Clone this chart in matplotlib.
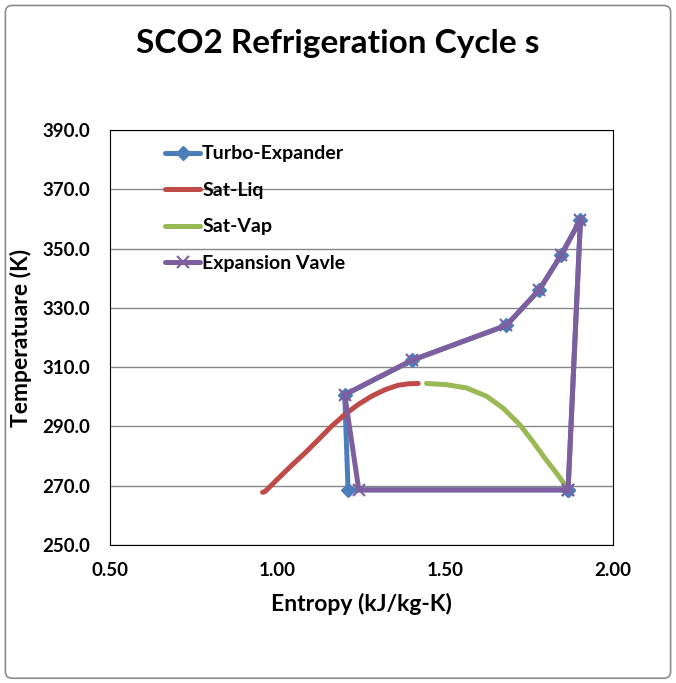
import matplotlib
matplotlib.use("Agg")
import matplotlib.pyplot as plt
from matplotlib.patches import FancyBboxPatch

plt.rcParams['font.family'] = ['Lato', 'DejaVu Sans']

# cycle points (entropy kJ/kg-K, temperature K)
turbo_s = [1.866, 1.903, 1.846, 1.780, 1.682, 1.402, 1.200, 1.210, 1.866]
turbo_t = [268.6, 359.8, 347.9, 336.1, 324.1, 312.4, 300.7, 268.6, 268.6]

valve_s = [1.866, 1.903, 1.846, 1.780, 1.682, 1.402, 1.200, 1.242, 1.866]
valve_t = [268.6, 359.8, 347.9, 336.1, 324.1, 312.4, 300.7, 268.6, 268.6]

# saturation dome
liq_s = [0.955, 0.962, 1.002, 1.041, 1.081, 1.121, 1.160, 1.200, 1.240, 1.280,
         1.320, 1.359, 1.390, 1.419]
liq_t = [267.8, 268.0, 272.5, 276.8, 281.0, 285.5, 290.0, 294.0, 297.4, 300.2,
         302.4, 303.9, 304.4, 304.5]

vap_s = [1.444, 1.503, 1.563, 1.623, 1.672, 1.722, 1.761, 1.801, 1.836, 1.866]
vap_t = [304.5, 304.1, 303.0, 300.2, 296.2, 290.6, 284.9, 278.7, 273.6, 268.8]

xticks = [0.50, 1.00, 1.50, 2.00]
yticks = [250, 270, 290, 310, 330, 350, 370, 390]

fig = plt.figure(figsize=(6.76, 6.83), dpi=100)
ax = fig.add_axes([0.1627, 0.2020, 0.7441, 0.6076])

borde = FancyBboxPatch((0.008, 0.007), 0.984, 0.985, boxstyle="round,pad=0,rounding_size=0.01",
                       transform=fig.transFigure, fill=False, edgecolor='#8c8c8c', linewidth=1.2)
fig.patches.append(borde)

lw = 3.6
ax.plot(turbo_s, turbo_t, color='#4A7EBB', linewidth=lw, marker='D', markersize=7.5,
        label='Turbo-Expander', zorder=2, solid_capstyle='round')
ax.plot(liq_s, liq_t, color='#BE4B48', linewidth=lw, label='Sat-Liq', zorder=3,
        solid_capstyle='round', solid_joinstyle='round')
ax.plot(vap_s, vap_t, color='#98B954', linewidth=lw, label='Sat-Vap', zorder=3,
        solid_capstyle='round', solid_joinstyle='round')
ax.plot(valve_s, valve_t, color='#7D5FA0', linewidth=lw, marker='x', markersize=9,
        markeredgewidth=1.5, label='Expansion Vavle', zorder=4, solid_capstyle='round')

ax.set_xlim(0.5, 2.0)
ax.set_ylim(250, 390)
ax.set_xticks(xticks)
ax.set_yticks(yticks)
ax.set_xticklabels([f"{v:.2f}" for v in xticks], fontsize=13.5, fontweight='bold')
ax.set_yticklabels([f"{v:.1f}" for v in yticks], fontsize=13.5, fontweight='bold')
ax.tick_params(axis='y', length=0, pad=14)
ax.tick_params(axis='x', length=0, pad=12)
ax.grid(axis='y', color='#868686', linewidth=1)
ax.set_axisbelow(True)
for sp in ax.spines.values():
    sp.set_color('#000000')
    sp.set_linewidth(0.8)

ax.set_xlabel('Entropy (kJ/kg-K)', fontsize=16.5, fontweight='bold', labelpad=10)
ax.set_ylabel('Temperatuare (K)', fontsize=16.5, fontweight='bold', labelpad=8)
fig.suptitle('SCO2 Refrigeration Cycle s', fontsize=24, fontweight='bold', y=0.958)

leg = ax.legend(loc='upper left', bbox_to_anchor=(0.075, 1.005), frameon=False,
                prop={'size': 14, 'weight': 'bold'}, handlelength=1.8,
                handletextpad=0.1, labelspacing=1.0)

fig.savefig('out.png', dpi=100)
